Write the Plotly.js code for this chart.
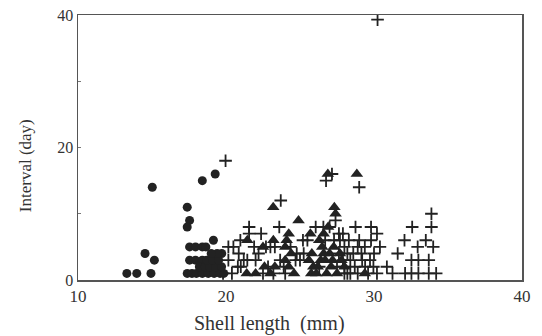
<!DOCTYPE html>
<html>
<head>
<meta charset="utf-8">
<script src="https://cdn.plot.ly/plotly-3.0.1.min.js"></script>
<style>html,body{margin:0;padding:0;background:#fff;}#chart{width:542px;height:336px;}</style>
</head>
<body>
<div id="chart"></div>
<script>
// Circles (smallest group)
const circleX = [13.3, 13.97, 14.93, 14.53, 15.16, 15.02, 17.38, 17.54, 17.38, 18.4, 19.27,
  17.54, 17.94, 18.4, 18.64, 19.15, 17.54, 17.94, 18.4, 19.71,
  17.38, 17.7, 18.0, 18.4, 18.8, 19.2, 19.6, 19.85,
  18.2, 18.6, 18.9, 19.3, 19.7, 18.7, 19.1, 19.5, 19.4, 19.0];
const circleY = [1, 1, 1, 4, 3, 14, 11, 9, 8, 15, 16,
  5, 5, 5, 5, 6, 3, 3, 3, 4,
  1, 1, 1, 1, 1, 1, 1, 1,
  2, 2, 2, 2, 2, 3, 3, 3, 4, 4];

// Triangles (middle group)
const triX = [23.19, 24.9, 26.88, 28.84, 27.32, 24.24, 25.7, 24.1, 24.0, 21.44,
  29.38, 21.4, 22.0, 22.6, 23.3, 24.0, 24.24, 24.6, 25.76, 26.2,
  26.7, 27.0, 27.28, 27.7, 26.5, 26.6, 26.9, 27.4, 25.6, 26.1,
  26.8, 27.5, 28.0, 23.2, 22.5, 25.9, 26.4, 27.1, 27.2, 26.3,
  23.0, 24.4, 25.8, 26.6, 27.8];
const triY = [11, 9, 16, 16, 11, 7, 7, 6, 5, 6,
  1, 1, 1, 2, 2, 3, 2, 1, 1, 2,
  3, 4, 5, 4, 5, 7, 8, 10, 3, 1,
  1, 1, 2, 6, 5, 2, 3, 2, 3, 6,
  1, 4, 4, 4, 3];

// Pluses (largest group)
const plusX = [30.24, 19.97, 23.7, 27.16, 26.76, 29.0, 33.88, 33.88, 32.58, 32.06,
  33.5, 32.95, 34.0, 31.6, 32.53, 33.0, 33.7, 30.87, 31.25, 32.1,
  32.53, 33.0, 33.7, 34.2, 28.75, 29.8, 30.2, 29.8, 28.9, 29.38,
  29.15, 29.73, 28.4, 28.0, 28.7, 29.4, 29.96, 28.0, 28.4, 28.9,
  29.6, 30.2, 23.6, 21.56, 21.56, 22.37, 20.97, 20.5, 20.16, 21.9,
  22.7, 23.3, 20.86, 20.16, 21.44, 22.0, 22.84, 20.4, 19.8, 23.2,
  24.0, 25.25, 24.78, 23.66, 25.2, 25.5, 26.06, 26.58, 27.0, 27.63,
  27.7, 27.3, 26.7, 28.0, 27.63, 28.2, 24.7, 24.36, 23.0, 21.0,
  22.2, 27.9, 28.3, 27.4, 27.9, 20.8, 21.2, 22.5, 23.9, 25.0,
  28.6, 29.2, 30.0, 27.5, 26.3, 29.0, 28.2, 30.4];
const plusY = [39.3, 18, 12, 16, 15, 14, 10, 8, 8, 6,
  6, 5, 5, 4, 3, 3, 3, 2, 1, 1,
  1, 1, 1, 1, 8, 8, 7, 6, 5, 5,
  4, 3, 3, 2, 2, 2, 2, 1, 1, 1,
  1, 1, 8, 8, 7, 7, 6, 5, 5, 5,
  5, 5, 4, 3, 3, 3, 2, 1, 1, 1,
  1, 4, 4, 3, 6, 6, 8, 8, 8, 7,
  6, 6, 6, 5, 4, 4, 3, 5, 5, 2,
  4, 7, 6, 9, 3, 2, 3, 1, 2, 3,
  4, 3, 4, 2, 2, 6, 1, 5];

const xTicks = [10, 20, 30, 40];
const yTicks = [0, 10, 20, 30, 40];
const yTickText = ['0', '', '20', '', '40'];
const xTitle = 'Shell length\u2002(mm)';
const yTitle = 'Interval (day)';

const serif = '"Liberation Serif", "DejaVu Serif", serif';
const ink = '#222';

const traces = [
  {x: plusX, y: plusY, type: 'scatter', mode: 'markers', hoverinfo: 'skip',
   marker: {symbol: 'cross-thin-open', size: 9, color: ink, line: {color: ink, width: 1.8}}},
  {x: triX, y: triY, type: 'scatter', mode: 'markers', hoverinfo: 'skip',
   marker: {symbol: 'triangle-up', size: 11, color: ink, line: {width: 0}}},
  {x: circleX, y: circleY, type: 'scatter', mode: 'markers', hoverinfo: 'skip',
   marker: {symbol: 'circle', size: 9, color: ink, line: {width: 0}}}
];

const layout = {
  width: 542, height: 336,
  margin: {l: 78, r: 20, t: 15, b: 56},
  paper_bgcolor: '#fff', plot_bgcolor: '#fff',
  showlegend: false,
  font: {family: serif, color: ink, size: 15},
  xaxis: {
    range: [10, 40], tickvals: xTicks, ticktext: xTicks.map(String),
    showgrid: false, zeroline: false, showline: true, mirror: true,
    linecolor: '#555', linewidth: 1.5, ticks: '', ticklen: 0,
    tickfont: {family: serif, size: 17, color: '#333'}
  },
  yaxis: {
    range: [0, 40], tickvals: yTicks, ticktext: yTickText,
    showgrid: false, zeroline: false, showline: true, mirror: true,
    linecolor: '#555', linewidth: 1.5, ticks: 'inside', ticklen: 3, tickcolor: '#777',
    tickfont: {family: serif, size: 16, color: '#333'}
  },
  annotations: [
    {text: xTitle, xref: 'paper', yref: 'paper', x: 0.432, y: -0.166,
     xanchor: 'center', yanchor: 'middle', showarrow: false,
     font: {family: serif, size: 20, color: '#333'}},
    {text: yTitle, xref: 'paper', yref: 'paper', x: -0.119, y: 0.43,
     xanchor: 'center', yanchor: 'middle', textangle: -90, showarrow: false,
     font: {family: serif, size: 17, color: '#333'}}
  ]
};

Plotly.newPlot('chart', traces, layout, {staticPlot: true, displayModeBar: false});
</script>
</body>
</html>
